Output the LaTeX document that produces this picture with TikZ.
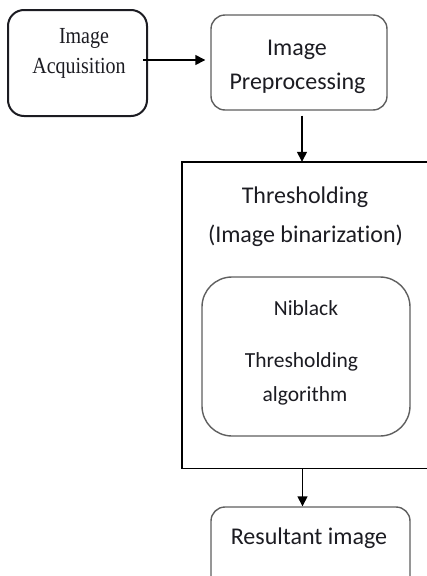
\documentclass[tikz,border=0pt]{standalone}
\usepackage{fontspec}
\setmainfont{Carlito}[Ligatures=CommonOff]
\newfontfamily\serifface{Liberation Serif}
\usetikzlibrary{arrows.meta}

\definecolor{inkdark}{RGB}{28,28,34}
\definecolor{edgegray}{RGB}{95,95,95}

\tikzset{
  flowbox/.style={draw=edgegray, line width=1.4pt, rounded corners=14pt, fill=white,
                  inner sep=0pt},
  label24/.style={anchor=base, inner sep=0pt, text=inkdark,
                  font=\fontsize{24}{28}\selectfont},
  label21/.style={anchor=base, inner sep=0pt, text=inkdark,
                  font=\fontsize{21.5}{26}\selectfont},
  labelserif/.style={anchor=base, inner sep=0pt, text=inkdark,
                  font=\serifface\fontsize{20}{24}\selectfont},
  flowarrow/.style={draw=black, line width=1.4pt,
                  -{Triangle[length=10pt,width=10pt]}},
}

\begin{document}
\begin{tikzpicture}[x=1pt, y=-1pt]
  \useasboundingbox (0,0) rectangle (426,576);

  % boxes
  \node[flowbox, draw=inkdark, line width=2pt, rounded corners=16pt,
        minimum width=139pt, minimum height=106pt] (acq) at (77.5,63) {};
  \node[flowbox, minimum width=176pt, minimum height=95pt] (pre) at (299,62.5) {};
  % the thresholding frame: its right side lies beyond the page edge
  \node[inner sep=0pt, minimum width=318pt, minimum height=306pt] (thr) at (341,315) {};
  \draw[black, line width=1.4pt]
    (thr.north east) -- (thr.north west) -- (thr.south west) -- (thr.south east);
  \node[flowbox, rounded corners=30pt,
        minimum width=208pt, minimum height=159pt] (nib) at (306,356.5) {};
  \node[flowbox, minimum width=199pt, minimum height=100pt] (res) at (310.5,557) {};

  % texts
  \node[labelserif] (acqA) at (84,43) {\scalebox{1}[1.15]{Image}};
  \node[labelserif] (acqB) at (79,73) {\scalebox{1}[1.15]{Acquisition}};
  \node[label24] (preA) at (297,55) {Image};
  \node[label24] (preB) at (297.5,89) {Preprocessing};
  \node[label24] (thrA) at (305,203) {Thresholding};
  \node[label24] (thrB) at (305.5,242) {(Image binarization)};
  \node[label21] (nibA) at (306,315) {Niblack};
  \node[label21] (nibB) at (301.5,367) {Thresholding};
  \node[label21] (nibC) at (305,401) {algorithm};
  \node[label24] (resA) at (309,544) {Resultant image};

  % connectors
  \draw[flowarrow] ([shift={(-5pt,3pt)}]acq.east) -- ([shift={(-5pt,3pt)}]acq.east -| pre.west);
  \draw[flowarrow, shorten <=5pt] ([xshift=3pt]pre.south) -- ([xshift=3pt]pre.south |- thr.north);
  \draw[flowarrow] ([xshift=-8pt]res.north |- thr.south) -- ([xshift=-8pt]res.north);
\end{tikzpicture}
\end{document}
